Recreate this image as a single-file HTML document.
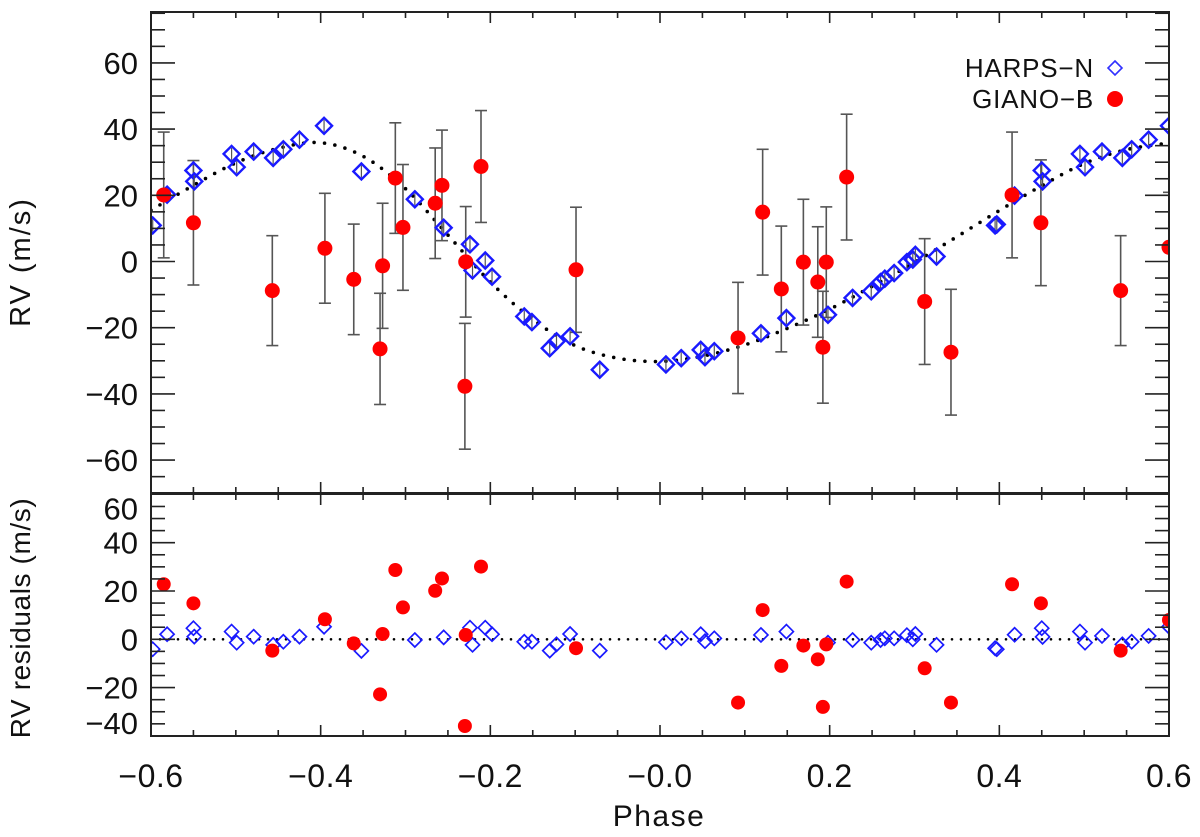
<!DOCTYPE html>
<html><head><meta charset="utf-8">
<style>
html,body{margin:0;padding:0;background:#fff;}
svg{display:block;font-family:"Liberation Sans",sans-serif;}
</style></head>
<body>
<svg id="chart" width="1200" height="837" viewBox="0 0 1200 837">
<defs>
<clipPath id="clipTop"><rect x="151" y="12" width="1018" height="481"/></clipPath>
<clipPath id="clipBot"><rect x="151" y="494" width="1018" height="242"/></clipPath>
</defs>
<g id="gTop" clip-path="url(#clipTop)"></g>
<g id="gBot" clip-path="url(#clipBot)"></g>
<g id="gAxes"></g>
<text x="30" y="262" transform="rotate(-90 30 262)" text-anchor="middle" font-size="29" letter-spacing="2" fill="#111">RV (m/s)</text>
<text x="30" y="618" transform="rotate(-90 30 618)" text-anchor="middle" font-size="28" letter-spacing="0.6" fill="#111">RV residuals (m/s)</text>
<text x="659" y="826" text-anchor="middle" font-size="30" letter-spacing="1.5" fill="#111">Phase</text>
<g>
<text x="1094" y="77" text-anchor="end" font-size="26" letter-spacing="0.8" fill="#111">HARPS−N</text>
<path d="M1115 61 L1122 68 L1115 75 L1108 68 Z" fill="none" stroke="#3030ff" stroke-width="1.6"/>
<text x="1094" y="108" text-anchor="end" font-size="26" letter-spacing="0.8" fill="#111">GIANO−B</text>
<circle cx="1115" cy="99" r="8" fill="#ff0000"/>
</g>
</svg>
<script>
// ---- data ----
const harpsPhase = [-0.598,-0.581,-0.550,-0.549,-0.505,-0.499,-0.479,-0.456,-0.444,-0.425,-0.396,-0.352,-0.289,-0.255,-0.224,-0.221,-0.206,-0.198,-0.160,-0.151,-0.130,-0.122,-0.106,-0.071,
 0.007,0.025,0.048,0.053,0.064,0.119,0.149,0.198,0.227,0.249,0.260,0.265,0.276,0.291,0.298,0.301,0.326,0.395,0.397,0.418,0.450,0.451,0.495,0.501,0.521,0.545,0.556,0.576,0.600];
const harpsRV = [10.9,20.2,27.5,24.2,32.5,28.5,33.2,31.3,33.9,36.8,41.0,27.2,18.8,10.2,5.2,-2.7,0.3,-4.6,-16.6,-18.3,-26.2,-24.1,-22.6,-32.7,
 -31.1,-29.2,-26.7,-28.9,-27.1,-21.7,-17.1,-16.1,-11.0,-9.0,-6.2,-5.2,-3.5,-0.2,0.6,2.0,1.5,10.9,11.2,19.9,27.5,24.2,32.5,28.5,33.2,31.3,33.9,36.8,41.0];
const harpsRes = [-4.1,2.1,4.6,1.1,3.2,-1.4,1.1,-2.3,-1.0,1.1,5.2,-4.8,-0.3,0.8,4.8,-2.3,4.8,2.1,-1.0,-1.0,-4.7,-2.1,2.2,-4.7,
 -1.2,0.4,2.1,-0.8,0.4,1.8,3.2,-1.4,-0.3,-1.4,-0.3,0.4,0.4,1.7,0.0,2.2,-2.3,-3.7,-4.1,1.9,4.6,1.0,3.2,-1.4,1.4,-2.1,-1.0,1.4,5.2];
const gianoPhase = [-0.585,-0.550,-0.457,-0.395,-0.361,-0.327,-0.330,-0.312,-0.303,-0.265,-0.257,-0.229,-0.230,-0.211,-0.099,
 0.092,0.121,0.143,0.169,0.186,0.192,0.196,0.220,0.312,0.343,0.415,0.449,0.543,0.600];
const gianoRV = [20.1,11.7,-8.8,4.0,-5.4,-1.3,-26.4,25.2,10.3,17.6,23.0,-0.1,-37.7,28.7,-2.5,
 -23.1,14.9,-8.3,-0.2,-6.2,-25.9,-0.2,25.5,-12.1,-27.4,20.1,11.7,-8.8,4.3];
const gianoErr = [19,18.8,16.6,16.6,16.7,18.9,16.8,16.7,19,16.7,16.7,16.7,19,16.9,18.9,
 16.8,19,19,19,16.7,16.9,16.7,19,19,19,19,19,16.6,16.6];
const gianoRes = [22.8,14.9,-4.7,8.3,-1.7,2.2,-22.8,28.7,13.2,20.1,25.2,1.8,-35.9,30.1,-3.7,
 -26.2,12.1,-11.0,-2.6,-8.3,-28.0,-2.1,23.9,-12.0,-26.2,22.8,14.9,-4.7,8.0];
const modelPhase = [-0.6,-0.55,-0.5,-0.45,-0.4,-0.35,-0.3,-0.25,-0.2,-0.15,-0.1,-0.05,0,0.05,0.1,0.15,0.2,0.25,0.3,0.35,0.4,0.45,0.5,0.55,0.6];
const modelRV = [15.5,23,29.8,34.2,35.9,31.8,22,8,-6.2,-17.5,-25.4,-29.2,-30.2,-28.6,-25.2,-20.2,-14.4,-7.5,-0.3,7.5,15.4,22.9,29.6,33.8,35.8];
const xTicks = [-0.6,-0.4,-0.2,0,0.2,0.4,0.6];
const xTickLabels = ["−0.6","−0.4","−0.2","−0.0","0.2","0.4","0.6"];
const yTopTicks = [-60,-40,-20,0,20,40,60];
const yTopLabels = ["−60","−40","−20","0","20","40","60"];
const yBotTicks = [-40,-20,0,20,40,60];
const yBotLabels = ["−40","−20","0","20","40","60"];

// ---- scales ----
const X0=151, X1=1169;
const xS = p => X0 + (p+0.6)/1.2*(X1-X0);
const TT=12, TB=493, BT=494, BB=736;
const yT = v => 261.5 - v*3.31;
const yB = v => 639.3 - v*2.415;
const NS="http://www.w3.org/2000/svg";
function mk(tag, attrs, parent){const e=document.createElementNS(NS,tag);for(const k in attrs)e.setAttribute(k,attrs[k]);parent.appendChild(e);return e;}
const gTop=document.getElementById('gTop'), gBot=document.getElementById('gBot'), gAx=document.getElementById('gAxes');

function smoothPath(xs, ys){
  let d=`M${xs[0]},${ys[0]}`;
  for(let i=0;i<xs.length-1;i++){
    const x0=xs[Math.max(i-1,0)],y0=ys[Math.max(i-1,0)],x1=xs[i],y1=ys[i],x2=xs[i+1],y2=ys[i+1],x3=xs[Math.min(i+2,xs.length-1)],y3=ys[Math.min(i+2,xs.length-1)];
    d+=` C${x1+(x2-x0)/6},${y1+(y2-y0)/6} ${x2-(x3-x1)/6},${y2-(y3-y1)/6} ${x2},${y2}`;
  }
  return d;
}
const mp = mk('path',{d:smoothPath(modelPhase.map(xS),modelRV.map(yT)),fill:'none',stroke:'#000','stroke-width':3.6,'stroke-linecap':'round','stroke-dasharray':'0 10.5'},gTop);



const zl = mk('line',{x1:X0,x2:X1,y1:yB(0),y2:yB(0),stroke:'#000','stroke-width':2.6,'stroke-linecap':'round','stroke-dasharray':'0 9'},gBot);



gianoPhase.forEach((p,i)=>{
  const x=xS(p), y1=yT(gianoRV[i]+gianoErr[i]), y2=yT(gianoRV[i]-gianoErr[i]);
  const g=mk('g',{stroke:'#555','stroke-width':1.6},gTop);
  
  
  mk('line',{x1:x,x2:x,y1:y1,y2:y2},g);
  mk('line',{x1:x-6,x2:x+6,y1:y1,y2:y1},g);
  mk('line',{x1:x-6,x2:x+6,y1:y2,y2:y2},g);
});
harpsPhase.forEach((p,i)=>{
  const x=xS(p), y=yT(harpsRV[i]);
  const eb=mk('line',{x1:x,x2:x,y1:y-6,y2:y+6,stroke:'#555','stroke-width':1.2},gTop);
  
  
  const d=mk('path',{d:`M${x} ${y-8} L${x+8} ${y} L${x} ${y+8} L${x-8} ${y} Z`,fill:'none',stroke:'#1a1aff','stroke-width':2.4},gTop);
  
  
});
gianoPhase.forEach((p,i)=>{
  const c=mk('circle',{cx:xS(p),cy:yT(gianoRV[i]),r:7.5,fill:'#ff0000'},gTop);
  
  
});
harpsPhase.forEach((p,i)=>{
  const x=xS(p), y=yB(harpsRes[i]);
  const d=mk('path',{d:`M${x} ${y-7} L${x+7} ${y} L${x} ${y+7} L${x-7} ${y} Z`,fill:'none',stroke:'#1a1aff','stroke-width':1.7},gBot);
  
  
});
gianoPhase.forEach((p,i)=>{
  const c=mk('circle',{cx:xS(p),cy:yB(gianoRes[i]),r:7,fill:'#ff0000'},gBot);
  
  
});

[[TT,TB],[BT,BB]].forEach(([t,b],k)=>{
  const r=mk('rect',{x:X0,y:t,width:X1-X0,height:b-t,fill:'none',stroke:'#222','stroke-width':2},gAx);
  
  
});
const tk=mk('g',{stroke:'#222','stroke-width':1.6},gAx);


for(let i=0;i<=24;i++){
  const p=-0.6+i*0.05, x=xS(p), L=(i%4===0)?11:6;
  [TT,BT].forEach(t=>mk('line',{x1:x,x2:x,y1:t,y2:t+L},tk));
  [TB,BB].forEach(b=>mk('line',{x1:x,x2:x,y1:b,y2:b-L},tk));
}
for(let v=-70;v<=75;v+=5){
  const y=yT(v); if(y<TT+1||y>TB-1) continue; const L=(v%20===0)?24:14;
  mk('line',{x1:X0,x2:X0+L,y1:y,y2:y},tk); mk('line',{x1:X1,x2:X1-L,y1:y,y2:y},tk);
}
for(let v=-40;v<=60;v+=5){
  const y=yB(v); if(y<BT+1||y>BB-1) continue; const L=(v%20===0)?24:14;
  mk('line',{x1:X0,x2:X0+L,y1:y,y2:y},tk); mk('line',{x1:X1,x2:X1-L,y1:y,y2:y},tk);
}
xTicks.forEach((p,i)=>{
  const t=mk('text',{x:xS(p),y:787,'text-anchor':'middle','font-size':32,'letter-spacing':0.5,fill:'#111'},gAx);
  t.textContent=xTickLabels[i];
  
  
});
yTopTicks.forEach((v,i)=>{
  const t=mk('text',{x:138,y:yT(v)+11,'text-anchor':'end','font-size':31,fill:'#111'},gAx);
  t.textContent=yTopLabels[i];
  
  
});
yBotTicks.forEach((v,i)=>{
  let y=yB(v)+11; if(v===60) y=yB(v)+25; if(v===-40) y=yB(v)-2;
  const t=mk('text',{x:138,y:y,'text-anchor':'end','font-size':31,fill:'#111'},gAx);
  t.textContent=yBotLabels[i];
  
  
});
</script>
</body></html>
